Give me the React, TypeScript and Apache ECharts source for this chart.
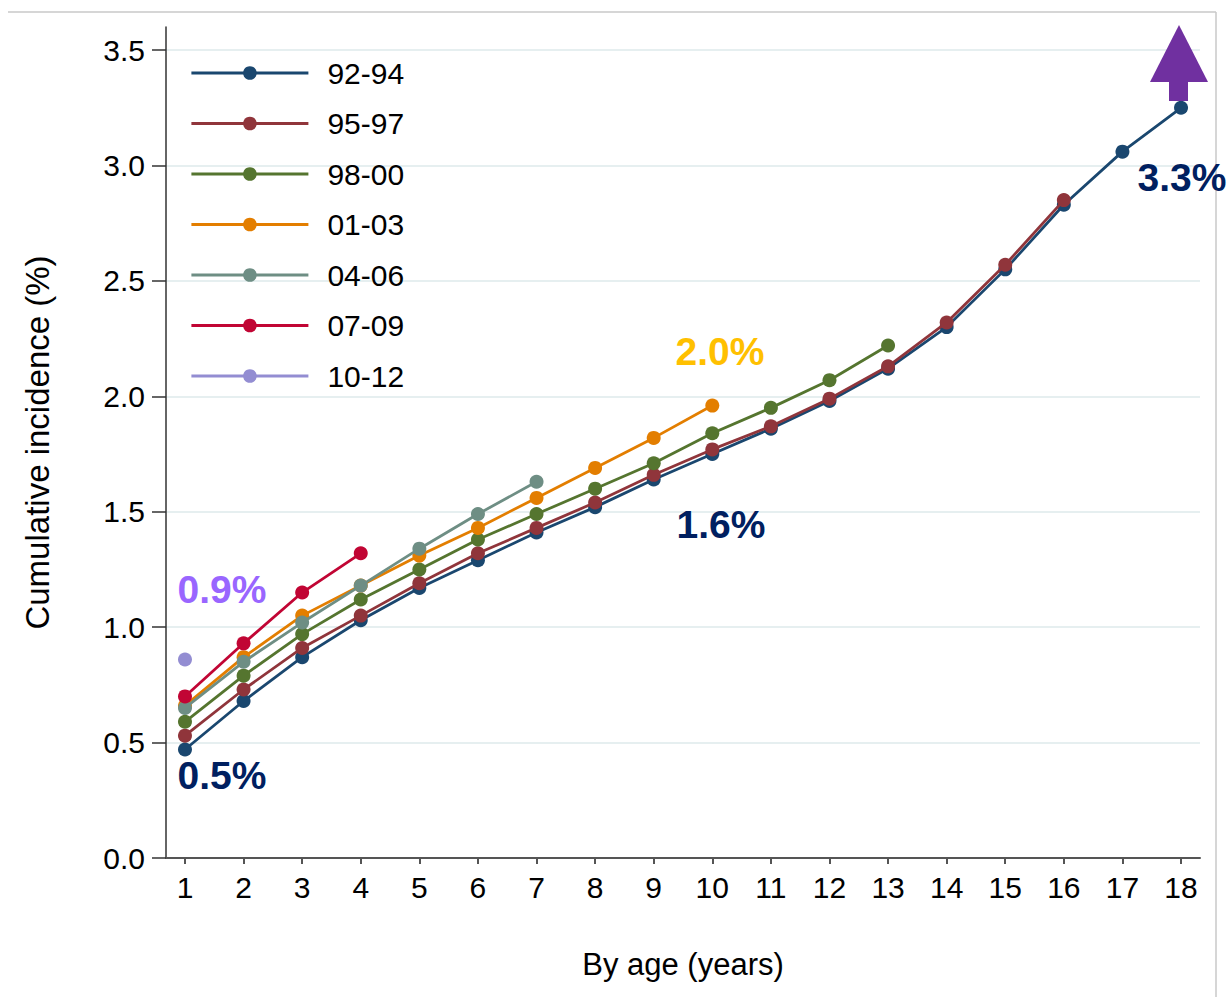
import React, { useEffect, useRef } from "react";
import * as echarts from "echarts";

const ages = [1, 2, 3, 4, 5, 6, 7, 8, 9, 10, 11, 12, 13, 14, 15, 16, 17, 18];
const yTicks = [0, 0.5, 1, 1.5, 2, 2.5, 3, 3.5];

const names = ["92-94", "95-97", "98-00", "01-03", "04-06", "07-09", "10-12"];
const colors = ["#1a476f", "#90353b", "#55752f", "#e37e00", "#6e8e84", "#c10534", "#938dd2"];

const s9294 = [0.47, 0.68, 0.87, 1.03, 1.17, 1.29, 1.41, 1.52, 1.64, 1.75, 1.86, 1.98, 2.12, 2.3, 2.55, 2.83, 3.06, 3.25];
const s9597 = [0.53, 0.73, 0.91, 1.05, 1.19, 1.32, 1.43, 1.54, 1.66, 1.77, 1.87, 1.99, 2.13, 2.32, 2.57, 2.85];
const s9800 = [0.59, 0.79, 0.97, 1.12, 1.25, 1.38, 1.49, 1.6, 1.71, 1.84, 1.95, 2.07, 2.22];
const s0103 = [0.66, 0.87, 1.05, 1.18, 1.31, 1.43, 1.56, 1.69, 1.82, 1.96];
const s0406 = [0.65, 0.85, 1.02, 1.18, 1.34, 1.49, 1.63];
const s0709 = [0.7, 0.93, 1.15, 1.32];
const s1012 = [0.86];

const allSeries = [s9294, s9597, s9800, s0103, s0406, s0709, s1012];

const annotations = [
  { text: "0.9%", x: 222, y: 589, color: "#9966ff" },
  { text: "0.5%", x: 222, y: 775, color: "#002060" },
  { text: "1.6%", x: 721, y: 524, color: "#002060" },
  { text: "2.0%", x: 720, y: 351, color: "#ffc000" },
  { text: "3.3%", x: 1182, y: 177, color: "#002060" },
];

const FONT = "Liberation Sans, Arial, Helvetica, sans-serif";

export default function App() {
  const ref = useRef<HTMLDivElement>(null);

  useEffect(() => {
    if (!ref.current) return;
    const chart = echarts.init(ref.current, undefined, { renderer: "svg" });

    const series = allSeries.map((vals, si) => ({
      name: names[si],
      type: "line",
      data: vals.map((v, i) => [ages[i], v]),
      symbol: "circle",
      symbolSize: 14,
      showSymbol: true,
      lineStyle: { color: colors[si], width: 2.8 },
      itemStyle: { color: colors[si] },
      emphasis: { disabled: true },
      z: 2 + si,
    }));

    const graphics: any[] = [
      {
        type: "line",
        shape: { x1: 8, y1: 12, x2: 1216, y2: 12 },
        style: { stroke: "#c8c8c8", lineWidth: 1.5 },
      },
      {
        type: "line",
        shape: { x1: 1216, y1: 12, x2: 1216, y2: 997 },
        style: { stroke: "#c8c8c8", lineWidth: 1.5 },
      },
      {
        type: "polygon",
        shape: { points: [[1150, 82], [1179, 25], [1208, 82]] },
        style: { fill: "#7030a0" },
        z: 100,
      },
      {
        type: "rect",
        shape: { x: 1169, y: 81, width: 19, height: 20 },
        style: { fill: "#7030a0" },
        z: 100,
      },
      ...annotations.map((a) => ({
        type: "text",
        x: a.x,
        y: a.y,
        style: {
          text: a.text,
          fill: a.color,
          font: `bold 39px ${FONT}`,
          align: "center",
          verticalAlign: "middle",
        },
        z: 100,
      })),
    ];

    chart.setOption({
      animation: false,
      backgroundColor: "#ffffff",
      grid: { left: 166, right: 32, top: 27, bottom: 139, containLabel: false },
      legend: {
        orient: "vertical",
        left: 190,
        top: 58,
        padding: 0,
        itemWidth: 117,
        itemHeight: 17,
        itemGap: 20.5,
        selectedMode: false,
        data: names,
        lineStyle: { width: 2.8 },
        textStyle: {
          fontFamily: FONT,
          fontSize: 30,
          lineHeight: 30,
          color: "#000",
          padding: [0, 0, 0, 14],
        },
      },
      xAxis: {
        type: "value",
        min: 0.676,
        max: 18.324,
        name: "By age (years)",
        nameLocation: "middle",
        nameGap: 91,
        nameTextStyle: { fontFamily: FONT, fontSize: 31, color: "#000" },
        axisLine: { show: true, lineStyle: { color: "#555", width: 2 } },
        axisTick: { show: true, length: 6, customValues: ages, lineStyle: { color: "#555", width: 2 } },
        axisLabel: {
          customValues: ages,
          fontFamily: FONT,
          fontSize: 30,
          color: "#000",
          margin: 14,
        },
        splitLine: { show: false },
      },
      yAxis: {
        type: "value",
        min: 0,
        max: 3.6,
        name: "Cumulative incidence (%)",
        nameLocation: "middle",
        nameGap: 112,
        nameTextStyle: { fontFamily: FONT, fontSize: 33, color: "#000" },
        axisLine: { show: true, lineStyle: { color: "#333", width: 1.5 } },
        axisTick: { show: true, length: 14, customValues: yTicks, lineStyle: { color: "#333", width: 1.5 } },
        axisLabel: {
          customValues: yTicks,
          fontFamily: FONT,
          fontSize: 30,
          color: "#000",
          margin: 21,
          formatter: (v: number) => v.toFixed(1),
        },
        splitLine: { show: true, lineStyle: { color: "#e6eff0", width: 2 } },
      },
      series,
      graphic: graphics,
    });

    return () => chart.dispose();
  }, []);

  return (
    <div
      ref={ref}
      style={{ position: "fixed", left: 0, top: 0, width: 1232, height: 997, background: "#fff" }}
    />
  );
}
